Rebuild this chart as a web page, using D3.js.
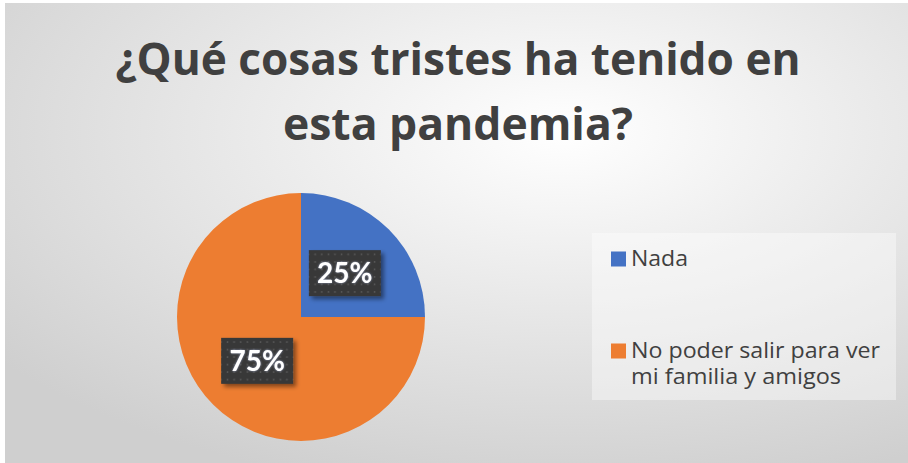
<!DOCTYPE html>
<html>
<head>
<meta charset="utf-8">
<script src="https://cdn.jsdelivr.net/npm/d3@7"></script>
<style>
  html, body { margin: 0; padding: 0; background: #ffffff; }
  svg { display: block; }
</style>
</head>
<body>
<svg id="chart" width="908" height="463"></svg>
<script>
// Survey answers
const categories = ["Nada", "No poder salir para ver mi familia y amigos"];
const values = [25, 75];
const legendLines = [["Nada"], ["No poder salir para ver", "mi familia y amigos"]];
const legendWidths = [[57], [249, 210]];
const colors = ["#4472C4", "#ED7D31"];
const titleLines = ["¿Qué cosas tristes ha tenido en", "esta pandemia?"];
const titleWidths = [685, 350];

const svg = d3.select("#chart");
const defs = svg.append("defs");

// Soft radial backdrop
const bg = defs.append("radialGradient").attr("id", "bgGrad")
  .attr("cx", "62%").attr("cy", "28%").attr("r", "80%");
bg.append("stop").attr("offset", "0%").attr("stop-color", "#ffffff");
bg.append("stop").attr("offset", "100%").attr("stop-color", "#cfcfcf");

// Dotted texture for the data-label boxes
const pat = defs.append("pattern").attr("id", "dots")
  .attr("patternUnits", "userSpaceOnUse").attr("width", 6.6).attr("height", 7.5);
pat.append("rect").attr("width", 6.6).attr("height", 7.5).attr("fill", "#383838");
pat.append("rect").attr("x", 2.6).attr("y", 3).attr("width", 1.5).attr("height", 1.5).attr("fill", "#5c5c5c");

const shadow = defs.append("filter").attr("id", "shadow")
  .attr("x", "-30%").attr("y", "-30%").attr("width", "160%").attr("height", "160%");
shadow.append("feDropShadow").attr("dx", 3).attr("dy", 3).attr("stdDeviation", 2.2)
  .attr("flood-color", "#000").attr("flood-opacity", 0.45);

const glow = defs.append("filter").attr("id", "glow")
  .attr("x", "-20%").attr("y", "-20%").attr("width", "140%").attr("height", "140%");
glow.append("feGaussianBlur").attr("in", "SourceAlpha").attr("stdDeviation", 0.8).attr("result", "b");
glow.append("feFlood").attr("flood-color", "#c0d0ff").attr("flood-opacity", 0.6);
glow.append("feComposite").attr("in2", "b").attr("operator", "in").attr("result", "g");
const gm = glow.append("feMerge");
gm.append("feMergeNode").attr("in", "g");
gm.append("feMergeNode").attr("in", "SourceGraphic");

svg.append("rect").attr("x", 5).attr("y", 3).attr("width", 903).attr("height", 460)
  .attr("fill", "url(#bgGrad)");

// Title
const title = svg.append("g");
titleLines.forEach((t, i) => {
  title.append("text")
    .attr("x", 458).attr("y", 75 + i * 65)
    .attr("text-anchor", "middle")
    .attr("font-family", "'Open Sans', Lato, sans-serif")
    .attr("font-weight", 700)
    .attr("font-size", 44)
    .attr("textLength", titleWidths[i])
    .attr("lengthAdjust", "spacingAndGlyphs")
    .attr("fill", "#404040")
    .text(t);
});

// Pie
const cx = 301, cy = 317, radius = 124;
const pie = d3.pie().sort(null).value(d => d)(values);
const arc = d3.arc().innerRadius(0).outerRadius(radius);
const labelArc = d3.arc().innerRadius(0).outerRadius(radius);

const pg = svg.append("g").attr("transform", `translate(${cx},${cy})`);
pg.selectAll("path.slice").data(pie).join("path")
  .attr("class", "slice")
  .attr("d", arc)
  .attr("fill", (d, i) => colors[i]);

const total = d3.sum(values);
const fmt = d3.format(".0%");
const bw = 72, bh = 46;
const labels = pg.selectAll("g.lbl").data(pie).join("g")
  .attr("class", "lbl")
  .attr("transform", d => { const [x, y] = labelArc.centroid(d); return `translate(${x},${y})`; });
labels.append("rect")
  .attr("x", -bw / 2).attr("y", -bh / 2).attr("width", bw).attr("height", bh)
  .attr("fill", "url(#dots)")
  .attr("filter", "url(#shadow)");
labels.append("text")
  .attr("text-anchor", "middle").attr("dy", "0.36em")
  .attr("font-family", "Lato, 'Open Sans', sans-serif")
  .attr("font-weight", 700).attr("font-size", 28)
  .attr("fill", "#ffffff")
  .attr("filter", "url(#glow)")
  .text(d => fmt(d.data / total));

// Legend
const lg = svg.append("g");
lg.append("rect").attr("x", 592).attr("y", 233).attr("width", 304).attr("height", 167)
  .attr("fill", "#ffffff").attr("fill-opacity", 0.4);
const legendY = [266, 358];
categories.forEach((c, i) => {
  lg.append("rect").attr("x", 611).attr("y", legendY[i] - 14.5).attr("width", 15).attr("height", 15)
    .attr("fill", colors[i]);
  legendLines[i].forEach((line, j) => {
    lg.append("text")
      .attr("x", 631).attr("y", legendY[i] + j * 26)
      .attr("font-family", "'Open Sans', Lato, sans-serif")
      .attr("font-size", 21)
      .attr("textLength", legendWidths[i][j])
      .attr("lengthAdjust", "spacingAndGlyphs")
      .attr("fill", "#404040")
      .text(line);
  });
});
</script>
</body>
</html>
